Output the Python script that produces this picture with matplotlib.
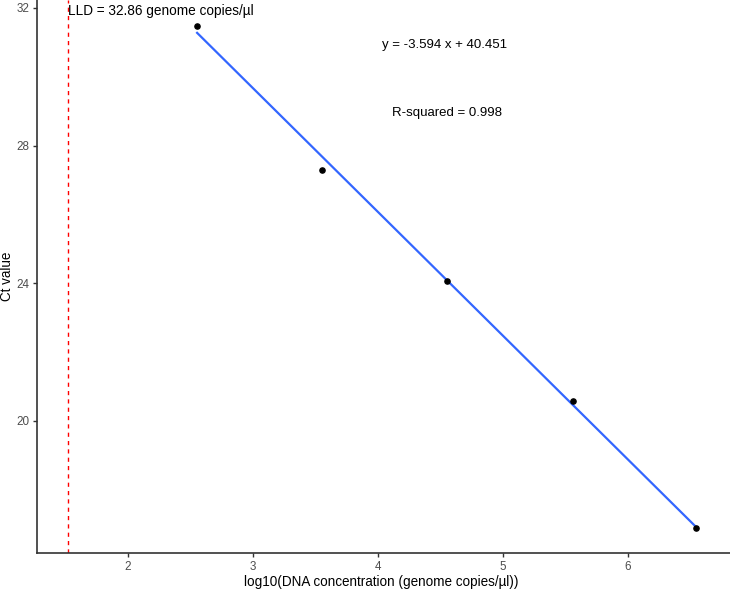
import numpy as np
import matplotlib
matplotlib.use("Agg")
import matplotlib.pyplot as plt

plt.rcParams['font.family'] = ['Liberation Sans', 'DejaVu Sans']

# standard curve data
log_conc = [2.553, 3.555, 4.557, 5.559, 6.55]
ct_value = [31.48, 27.29, 24.06, 20.58, 16.88]
slope = -3.594
intercept = 40.451
r_squared = 0.998
lld = 32.86

x_ticks = [2, 3, 4, 5, 6]
y_ticks = [20, 24, 28, 32]

fig = plt.figure(figsize=(7.3, 5.93), dpi=100)
ax = fig.add_axes([37 / 730, 40 / 593, 693 / 730, 553 / 593])

xs = np.linspace(min(log_conc), max(log_conc), 80)
ax.plot(xs, slope * xs + intercept, color='#3366FF', lw=1.6, zorder=2)
ax.scatter(log_conc, ct_value, s=14, color='black', zorder=3)
ax.axvline(np.log10(lld), color='#FF0000', lw=1.0, ls=(0, (3, 3)), zorder=1)

ax.text(np.log10(lld), 31.91, 'LLD = %.2f genome copies/µl' % lld,
        ha='left', va='center', fontsize=9.8)
ax.text(4.538, 30.92, 'y = %.3f x + %.3f' % (slope, intercept),
        ha='center', va='center', fontsize=9.5)
ax.text(4.556, 28.95, 'R-squared = %.3f' % r_squared,
        ha='center', va='center', fontsize=9.5)

ax.set_xlim(1.271, 6.82)
ax.set_ylim(16.16, 32.23)
ax.set_xticks(x_ticks)
ax.set_yticks(y_ticks)
ax.tick_params(colors='#333333', labelcolor='#4D4D4D', labelsize=8.4,
               length=3, width=1, pad=2.5)
for side in ['top', 'right']:
    ax.spines[side].set_visible(False)
for side in ['left', 'bottom']:
    ax.spines[side].set_color('#333333')
    ax.spines[side].set_linewidth(1.2)

ax.set_xlabel('log10(DNA concentration (genome copies/µl))', fontsize=9.75)
ax.set_ylabel('Ct value', fontsize=9.75)
ax.xaxis.set_label_coords(0.5 + (381 - 383.5) / 693, -(575 - 553) / 553)
ax.yaxis.set_label_coords(-(37 - 14) / 693, 0.5)

fig.savefig('out.png', dpi=100)
